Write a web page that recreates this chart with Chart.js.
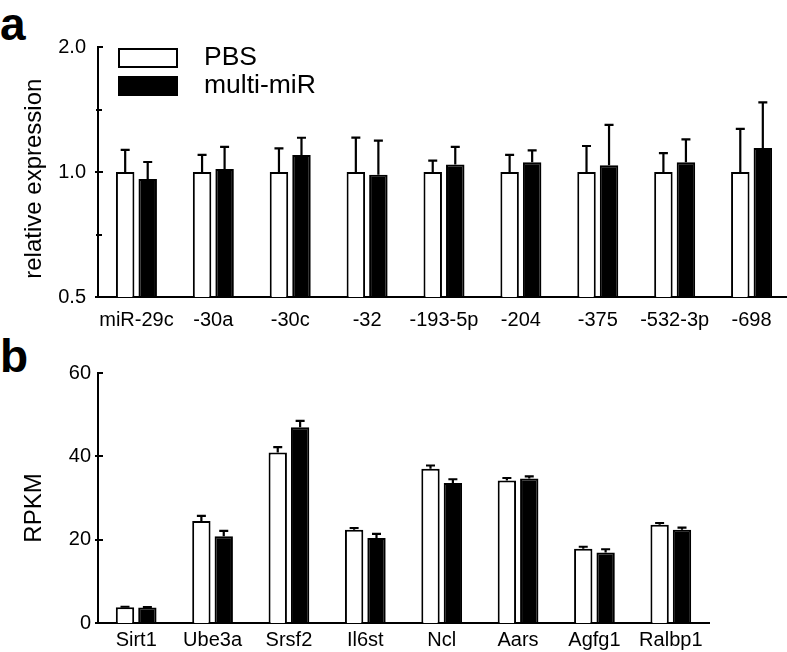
<!DOCTYPE html>
<html>
<head>
<meta charset="utf-8">
<script src="https://cdn.jsdelivr.net/npm/chart.js@4.4.0/dist/chart.umd.min.js"></script>
<style>
  html, body { margin: 0; padding: 0; background: #fff; overflow: hidden; }
  #wrap { position: relative; width: 787px; height: 652px; overflow: hidden; }
  canvas { position: absolute; left: 0; }
  .panel { position: absolute; left: 0; margin: 0; font: bold 46px "Liberation Sans", Arial, sans-serif; line-height: 1; color: #000; }
</style>
</head>
<body>
<div id="wrap">
  <div class="panel" style="top:1px">a</div>
  <div class="panel" style="top:333px">b</div>
  <canvas id="chartA" width="790" height="335" style="top:0"></canvas>
  <canvas id="chartB" width="787" height="322" style="top:330px"></canvas>
</div>
<script>
/* globals Chart:false */

// panel a: miRNA levels (relative, log2 axis)
const mirLabels = ['miR-29c', '-30a', '-30c', '-32', '-193-5p', '-204', '-375', '-532-3p', '-698']
const mirPbs = [1.0, 1.0, 1.0, 1.0, 1.0, 1.0, 1.0, 1.0, 1.0]
const mirPbsErr = [0.13, 0.10, 0.14, 0.21, 0.065, 0.10, 0.155, 0.11, 0.27]
const mirMulti = [0.962, 1.017, 1.099, 0.985, 1.043, 1.055, 1.038, 1.055, 1.142]
const mirMultiErr = [0.095, 0.133, 0.11, 0.205, 0.106, 0.073, 0.26, 0.143, 0.33]
const yTicksA = [0.5, 1.0, 2.0]

// panel b: target genes (RPKM)
const geneLabels = ['Sirt1', 'Ube3a', 'Srsf2', 'Il6st', 'Ncl', 'Aars', 'Agfg1', 'Ralbp1']
const genePbs = [3.8, 24.5, 40.9, 22.4, 37.0, 34.2, 17.8, 23.6]
const genePbsErr = [0.1, 1.2, 1.3, 0.4, 0.8, 0.6, 0.5, 0.4]
const geneMulti = [3.7, 20.8, 47.0, 20.4, 33.6, 34.7, 16.9, 22.4]
const geneMultiErr = [0.1, 1.3, 1.5, 1.0, 0.9, 0.5, 0.8, 0.5]
const yTicksB = [0, 20, 40, 60]

const seriesNames = ['PBS', 'multi-miR']

Chart.defaults.font.family = '"Liberation Sans", Arial, sans-serif'
Chart.defaults.color = '#000'

// one-sided (upper) error bars
const errorBars = {
  id: 'errorBars',
  afterDatasetsDraw (chart) {
    const ctx = chart.ctx
    const yScale = chart.scales.y
    ctx.save()
    ctx.strokeStyle = '#000'
    ctx.lineWidth = 2.2
    chart.data.datasets.forEach((ds, i) => {
      chart.getDatasetMeta(i).data.forEach((bar, j) => {
        const top = yScale.getPixelForValue(ds.data[j] + ds.errors[j])
        ctx.beginPath()
        ctx.moveTo(bar.x, bar.y)
        ctx.lineTo(bar.x, top)
        ctx.moveTo(bar.x - 4.5, top)
        ctx.lineTo(bar.x + 4.5, top)
        ctx.stroke()
      })
    })
    ctx.restore()
  }
}

// small tick marks crossing the y axis
const yTickMarks = {
  id: 'yTickMarks',
  afterDraw (chart) {
    const ctx = chart.ctx
    const yScale = chart.scales.y
    const x = chart.chartArea.left
    ctx.save()
    ctx.strokeStyle = '#000'
    ctx.lineWidth = 2
    yScale.ticks.forEach((t, i) => {
      const p = Math.round(yScale.getPixelForValue(t.value))
      const major = t.label !== ''
      const first = i === yScale.ticks.length - 1
      ctx.beginPath()
      ctx.moveTo(first ? x : x - (major ? 3 : 2), p)
      ctx.lineTo(x + (major ? 5 : 4), p)
      ctx.stroke()
    })
    ctx.restore()
  }
}

// legend drawn inside the plot area, top left
const insideLegend = {
  id: 'insideLegend',
  afterDraw (chart) {
    const ctx = chart.ctx
    const a = chart.chartArea
    ctx.save()
    ctx.font = '26.5px "Liberation Sans", Arial, sans-serif'
    ctx.textBaseline = 'middle'
    chart.data.datasets.forEach((ds, i) => {
      const y = a.top + 1 + i * 28
      ctx.fillStyle = ds.backgroundColor
      ctx.fillRect(a.left + 20, y, 60, 20)
      ctx.strokeStyle = '#000'
      ctx.lineWidth = 2
      ctx.strokeRect(a.left + 21, y + 1, 58, 18)
      ctx.fillStyle = '#000'
      ctx.fillText(ds.label, a.left + 106, y + 10)
    })
    ctx.restore()
  }
}

function makeDatasets (pbs, pbsErr, multi, multiErr) {
  const common = {
    borderColor: '#000',
    borderWidth: 2,
    categoryPercentage: 0.586,
    barPercentage: 0.82
  }
  return [
    Object.assign({ label: seriesNames[0], data: pbs, errors: pbsErr, backgroundColor: '#fff' }, common),
    Object.assign({ label: seriesNames[1], data: multi, errors: multiErr, backgroundColor: '#000' }, common)
  ]
}

function xAxis (height, pad) {
  return {
    z: 1,
    grid: { display: false, drawTicks: false },
    border: { display: true, color: '#000', width: 2 },
    ticks: { font: { size: 20 }, padding: pad, maxRotation: 0, autoSkip: false },
    afterFit: (scale) => { scale.height = height }
  }
}

// eslint-disable-next-line no-unused-vars
const chartA = new Chart(document.getElementById('chartA'), {
  type: 'bar',
  data: {
    labels: mirLabels,
    datasets: makeDatasets(mirPbs, mirPbsErr, mirMulti, mirMultiErr)
  },
  options: {
    responsive: false,
    animation: false,
    layout: { padding: { left: 20, top: 47, right: 0, bottom: 0 } },
    plugins: { legend: { display: false }, tooltip: { enabled: false } },
    scales: {
      x: xAxis(38, 11),
      y: {
        z: 1,
        type: 'logarithmic',
        min: 0.5,
        max: 2.0,
        grid: { display: false, drawTicks: false },
        border: { display: true, color: '#000', width: 2 },
        afterBuildTicks: (scale) => {
          const t = []
          yTicksA.forEach((v, i) => {
            t.push({ value: v })
            if (i < yTicksA.length - 1) t.push({ value: Math.sqrt(v * yTicksA[i + 1]) })
          })
          scale.ticks = t
        },
        ticks: {
          font: { size: 20 },
          padding: 12,
          autoSkip: false,
          callback: (v) => yTicksA.includes(v) ? v.toFixed(1) : ''
        },
        title: { display: true, text: 'relative expression  ', font: { size: 24 }, padding: { top: 0, bottom: 0 } },
        afterFit: (scale) => { scale.width = 78 }
      }
    }
  },
  plugins: [errorBars, yTickMarks, insideLegend]
})

// eslint-disable-next-line no-unused-vars
const chartB = new Chart(document.getElementById('chartB'), {
  type: 'bar',
  data: {
    labels: geneLabels,
    datasets: makeDatasets(genePbs, genePbsErr, geneMulti, geneMultiErr)
  },
  options: {
    responsive: false,
    animation: false,
    layout: { padding: { left: 20, top: 43, right: 78, bottom: 0 } },
    plugins: { legend: { display: false }, tooltip: { enabled: false } },
    scales: {
      x: xAxis(29, 5),
      y: {
        z: 1,
        min: 0,
        max: 60,
        grid: { display: false, drawTicks: false },
        border: { display: true, color: '#000', width: 2 },
        afterBuildTicks: (scale) => { scale.ticks = yTicksB.map(v => ({ value: v })) },
        ticks: { font: { size: 20 }, padding: 7, autoSkip: false },
        title: { display: true, text: 'RPKM   ', font: { size: 24 }, padding: { top: 0, bottom: 0 } },
        afterFit: (scale) => { scale.width = 78 }
      }
    }
  },
  plugins: [errorBars, yTickMarks]
})
</script>
</body>
</html>
